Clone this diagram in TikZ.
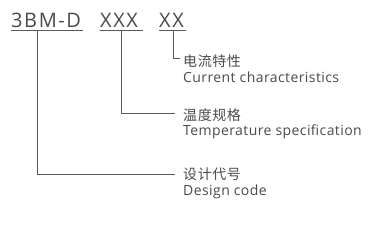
\documentclass[tikz,border=0pt]{standalone}
\usepackage{fontspec}
\setmainfont{Open Sans}
\newfontfamily\cjk{Noto Sans CJK SC}
\definecolor{txt}{HTML}{4A4A4A}
\definecolor{ln}{HTML}{5A5A5A}
\begin{document}
\begin{tikzpicture}[x=1pt,y=-1pt,
  code/.style={inner sep=0pt,anchor=base west,text=txt,font=\fontsize{20}{24}\selectfont\addfontfeature{LetterSpace=8}},
  zh/.style={inner sep=0pt,anchor=base west,text=txt,font=\cjk\fontsize{14}{16}\selectfont\addfontfeature{LetterSpace=4}},
  en/.style={inner sep=0pt,anchor=base west,text=txt,font=\fontsize{14}{16}\selectfont\addfontfeature{LetterSpace=3}},
  leader/.style={draw=ln,line width=0.9pt},
  uline/.style={draw=ln,line width=0.9pt}]
\useasboundingbox (0,0) rectangle (379,238);
\node[code] (a) at (11,28) {3BM-D};
\node[code] (b) at (100,28) {XXX};
\node[code] (c) at (159,28) {XX};
\draw[uline] (11,30.5) -- (83,30.5);
\draw[uline] (100,30.5) -- (143,30.5);
\draw[uline] (159,30.5) -- (186,30.5);
\node[zh] (z1) at (183,66) {电流特性};
\node[en] (e1) at (183,82) {Current characteristics};
\node[zh] (z2) at (183,120) {温度规格};
\node[en] (e2) at (183,135) {Temperature specification};
\node[zh] (z3) at (183,179) {设计代号};
\node[en] (e3) at (183,195) {Design code};
\coordinate (c1) at (173,31);
\coordinate (b1) at (121,31);
\coordinate (a1) at (37,31);
\draw[leader] (c1) |- (180,58);
\draw[leader] (b1) |- (175,113);
\draw[leader] (a1) |- (175,174);
\end{tikzpicture}
\end{document}
